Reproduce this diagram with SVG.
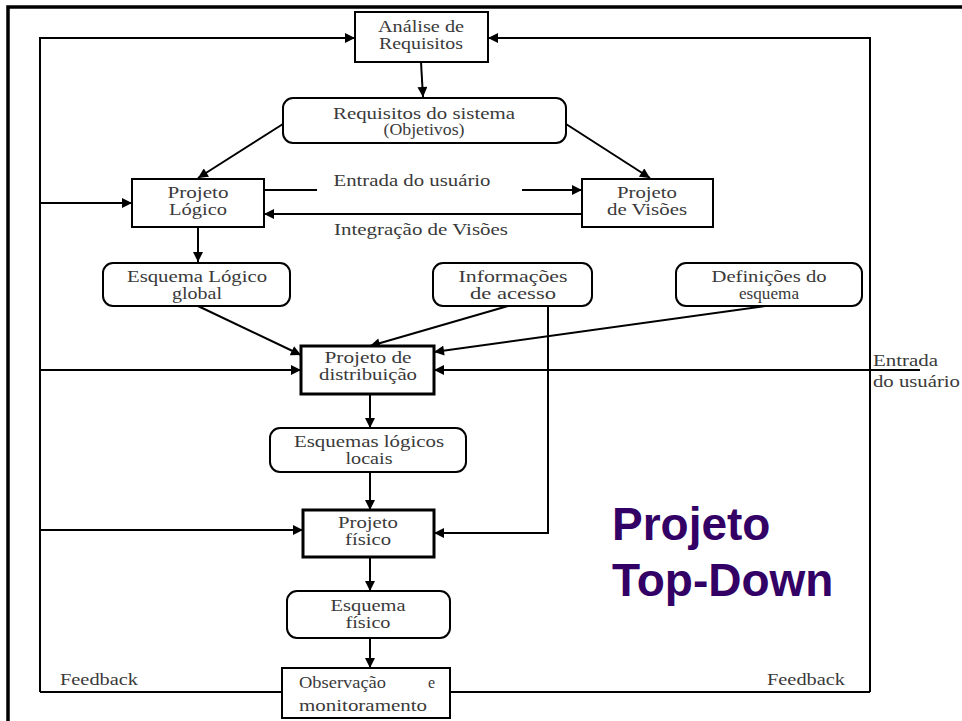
<svg xmlns="http://www.w3.org/2000/svg" width="962" height="721" viewBox="0 0 962 721">
<defs>
<style>
.bx{fill:#fff;stroke:#000;stroke-width:2}
.bxt{fill:#fff;stroke:#000;stroke-width:3}
.ln{fill:none;stroke:#000;stroke-width:2}
.t{font-family:"Liberation Serif","Times New Roman",serif;font-size:16px;fill:#3a3a3a;text-anchor:middle}
.tl{font-family:"Liberation Serif","Times New Roman",serif;font-size:16px;fill:#3a3a3a}
.big{font-family:"Liberation Sans",Arial,sans-serif;font-size:46px;font-weight:bold;fill:#330066}
</style>
<marker id="ah" viewBox="0 0 10 10" refX="10" refY="5" markerWidth="11" markerHeight="10" markerUnits="userSpaceOnUse" orient="auto">
<path d="M0,0 L10,5 L0,10 z" fill="#000"/>
</marker>
</defs>
<rect width="962" height="721" fill="#fff"/>
<path d="M8,721 L8,7 L962,7" fill="none" stroke="#000" stroke-width="3.5"/>

<g id="connectors">
<path class="ln" d="M40,692 L40,38 L355,38" marker-end="url(#ah)"/>
<path class="ln" d="M870,692 L870,38 L488,38" marker-end="url(#ah)"/>
<path class="ln" d="M40,692 L282,692"/>
<path class="ln" d="M450,692 L870,692"/>
<path class="ln" d="M421,62 L423,97" marker-end="url(#ah)"/>
<path class="ln" d="M283,124 L198,178" marker-end="url(#ah)"/>
<path class="ln" d="M566,124 L650,178" marker-end="url(#ah)"/>
<path class="ln" d="M264,190 L317,190"/>
<path class="ln" d="M522,190 L582,190" marker-end="url(#ah)"/>
<path class="ln" d="M582,214 L264,214" marker-end="url(#ah)"/>
<path class="ln" d="M40,203 L132,203" marker-end="url(#ah)"/>
<path class="ln" d="M198,227 L198,262" marker-end="url(#ah)"/>
<path class="ln" d="M198,306 L301,355" marker-end="url(#ah)"/>
<path class="ln" d="M508,306 L370,346" marker-end="url(#ah)"/>
<path class="ln" d="M765,306 L434,352" marker-end="url(#ah)"/>
<path class="ln" d="M40,370 L301,370" marker-end="url(#ah)"/>
<path class="ln" d="M920,370 L434,370" marker-end="url(#ah)"/>
<path class="ln" d="M370,394 L370,428" marker-end="url(#ah)"/>
<path class="ln" d="M370,472 L370,510" marker-end="url(#ah)"/>
<path class="ln" d="M40,530 L303,530" marker-end="url(#ah)"/>
<path class="ln" d="M548,306 L548,533 L434,533" marker-end="url(#ah)"/>
<path class="ln" d="M370,557 L370,591" marker-end="url(#ah)"/>
<path class="ln" d="M370,638 L370,668" marker-end="url(#ah)"/>
</g>

<g id="analise">
<rect class="bx" x="355" y="12" width="133" height="50"/>
<text class="t" x="421" y="32" textLength="86" lengthAdjust="spacingAndGlyphs">Análise de</text>
<text class="t" x="421" y="49" textLength="84" lengthAdjust="spacingAndGlyphs">Requisitos</text>
</g>
<g id="requisitos-sistema">
<rect class="bx" x="283" y="98" width="283" height="45" rx="10"/>
<text class="t" x="424" y="119" textLength="182" lengthAdjust="spacingAndGlyphs">Requisitos do sistema</text>
<text class="t" x="424" y="135" textLength="81" lengthAdjust="spacingAndGlyphs">(Objetivos)</text>
</g>
<g id="projeto-logico">
<rect class="bx" x="132" y="179" width="132" height="48"/>
<text class="t" x="198" y="198" textLength="61" lengthAdjust="spacingAndGlyphs">Projeto</text>
<text class="t" x="198" y="215" textLength="58" lengthAdjust="spacingAndGlyphs">Lógico</text>
</g>
<g id="projeto-visoes">
<rect class="bx" x="582" y="179" width="131" height="48"/>
<text class="t" x="647" y="198" textLength="60" lengthAdjust="spacingAndGlyphs">Projeto</text>
<text class="t" x="647" y="215" textLength="80" lengthAdjust="spacingAndGlyphs">de Visões</text>
</g>
<g id="label-entrada">
<text class="t" x="412" y="186" textLength="157" lengthAdjust="spacingAndGlyphs">Entrada do usuário</text>
</g>
<g id="label-integracao">
<text class="t" x="421" y="235" textLength="174" lengthAdjust="spacingAndGlyphs">Integração de Visões</text>
</g>
<g id="esquema-logico-global">
<rect class="bx" x="103" y="263" width="187" height="43" rx="10"/>
<text class="t" x="197" y="282" textLength="140" lengthAdjust="spacingAndGlyphs">Esquema Lógico</text>
<text class="t" x="197" y="299" textLength="50" lengthAdjust="spacingAndGlyphs">global</text>
</g>
<g id="informacoes-acesso">
<rect class="bx" x="433" y="263" width="159" height="43" rx="10"/>
<text class="t" x="513" y="282" textLength="109" lengthAdjust="spacingAndGlyphs">Informações</text>
<text class="t" x="513" y="299" textLength="86" lengthAdjust="spacingAndGlyphs">de acesso</text>
</g>
<g id="definicoes-esquema">
<rect class="bx" x="676" y="263" width="186" height="43" rx="10"/>
<text class="t" x="769" y="282" textLength="115" lengthAdjust="spacingAndGlyphs">Definições do</text>
<text class="t" x="769" y="299" textLength="60" lengthAdjust="spacingAndGlyphs">esquema</text>
</g>
<g id="projeto-distribuicao">
<rect class="bxt" x="301" y="346" width="133" height="48"/>
<text class="t" x="368" y="363" textLength="87" lengthAdjust="spacingAndGlyphs">Projeto de</text>
<text class="t" x="368" y="380" textLength="98" lengthAdjust="spacingAndGlyphs">distribuição</text>
</g>
<g id="label-entrada-direita">
<text class="tl" x="873" y="366" textLength="65" lengthAdjust="spacingAndGlyphs">Entrada</text>
<text class="tl" x="873" y="387" textLength="87" lengthAdjust="spacingAndGlyphs">do usuário</text>
</g>
<g id="esquemas-locais">
<rect class="bx" x="270" y="428" width="196" height="44" rx="10"/>
<text class="t" x="369" y="447" textLength="150" lengthAdjust="spacingAndGlyphs">Esquemas lógicos</text>
<text class="t" x="369" y="464" textLength="47" lengthAdjust="spacingAndGlyphs">locais</text>
</g>
<g id="projeto-fisico">
<rect class="bxt" x="303" y="510" width="131" height="47"/>
<text class="t" x="368" y="528" textLength="60" lengthAdjust="spacingAndGlyphs">Projeto</text>
<text class="t" x="368" y="545" textLength="46" lengthAdjust="spacingAndGlyphs">físico</text>
</g>
<g id="esquema-fisico">
<rect class="bx" x="287" y="591" width="163" height="47" rx="10"/>
<text class="t" x="368" y="611" textLength="75" lengthAdjust="spacingAndGlyphs">Esquema</text>
<text class="t" x="368" y="628" textLength="45" lengthAdjust="spacingAndGlyphs">físico</text>
</g>
<g id="observacao">
<rect class="bx" x="282" y="668" width="168" height="50"/>
<text class="tl" x="299" y="688" textLength="87" lengthAdjust="spacingAndGlyphs">Observação</text>
<text class="tl" x="428" y="688">e</text>
<text class="tl" x="299" y="711" textLength="128" lengthAdjust="spacingAndGlyphs">monitoramento</text>
</g>
<g id="feedback-labels">
<text class="tl" x="60" y="685" textLength="78" lengthAdjust="spacingAndGlyphs">Feedback</text>
<text class="tl" x="767" y="685" textLength="78" lengthAdjust="spacingAndGlyphs">Feedback</text>
</g>
<g id="titulo">
<text class="big" x="612" y="540">Projeto</text>
<text class="big" x="612" y="596">Top-Down</text>
</g>
</svg>
